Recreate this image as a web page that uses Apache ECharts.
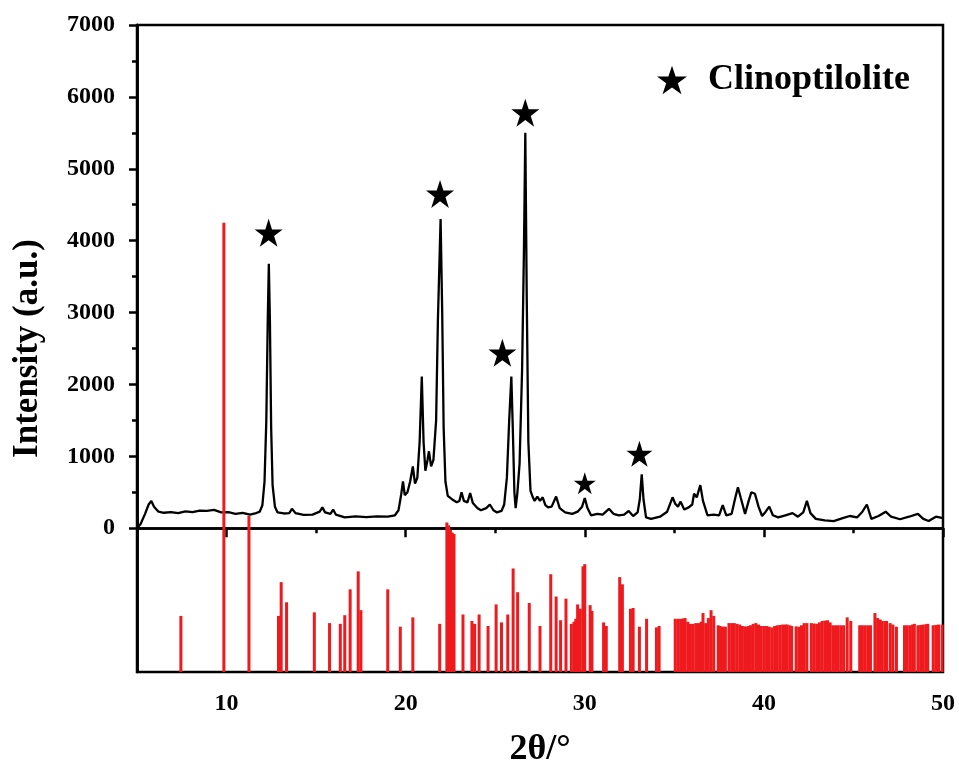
<!DOCTYPE html>
<html>
<head>
<meta charset="utf-8">
<script src="https://cdn.jsdelivr.net/npm/echarts@6/dist/echarts.min.js"></script>
<style>
  html, body { margin: 0; padding: 0; background: #fff; }
  #container { width: 959px; height: 773px; }
</style>
</head>
<body>
<div id="container"></div>
<script>
// measured XRD pattern [2theta, intensity]
const xrdPattern = [
  [5.0, 0], [5.2, 60], [5.45, 200], [5.65, 330], [5.8, 380], [5.95, 300], [6.2, 230], [6.5, 215],
  [6.9, 225], [7.3, 210], [7.7, 235], [8.1, 225], [8.5, 245], [8.9, 240], [9.3, 255], [9.7, 220],
  [10.1, 225], [10.5, 200], [10.9, 215], [11.3, 190], [11.6, 205], [11.85, 230], [12.0, 320],
  [12.12, 650], [12.22, 1500], [12.3, 2900], [12.36, 3680], [12.42, 2900], [12.49, 1400], [12.57, 600],
  [12.7, 300], [12.85, 220], [13.2, 205], [13.5, 210], [13.65, 270], [13.85, 210], [14.3, 185],
  [14.8, 190], [15.2, 230], [15.35, 290], [15.5, 220], [15.8, 200], [15.95, 260], [16.1, 190],
  [16.6, 150], [17.2, 165], [17.8, 155], [18.4, 165], [19.0, 160], [19.4, 180], [19.6, 250],
  [19.75, 470], [19.85, 650], [19.95, 460], [20.1, 500], [20.25, 650], [20.4, 860], [20.52, 620],
  [20.65, 700], [20.78, 1200], [20.9, 2110], [21.0, 1200], [21.1, 800], [21.22, 950], [21.3, 1070],
  [21.42, 860], [21.55, 950], [21.7, 1500], [21.8, 2900], [21.95, 4300], [22.04, 3000], [22.12, 1400],
  [22.22, 650], [22.35, 450], [22.6, 400], [22.85, 360], [23.0, 380], [23.12, 500], [23.25, 380],
  [23.45, 360], [23.6, 490], [23.75, 350], [24.0, 280], [24.2, 250], [24.5, 280], [24.7, 330],
  [24.9, 250], [25.1, 220], [25.35, 240], [25.5, 330], [25.65, 700], [25.78, 1500], [25.9, 2110],
  [25.98, 1400], [26.07, 500], [26.14, 280], [26.24, 500], [26.36, 900], [26.5, 2200], [26.6, 3800],
  [26.68, 5500], [26.76, 3200], [26.85, 1200], [26.97, 520], [27.1, 430], [27.2, 380], [27.35, 440],
  [27.5, 380], [27.65, 430], [27.8, 320], [27.95, 290], [28.15, 300], [28.4, 440], [28.6, 280],
  [28.9, 220], [29.3, 200], [29.6, 230], [29.85, 300], [30.0, 420], [30.15, 280], [30.35, 180],
  [30.7, 200], [31.0, 190], [31.35, 270], [31.6, 200], [31.9, 180], [32.2, 190], [32.45, 240],
  [32.7, 170], [32.95, 220], [33.07, 400], [33.18, 750], [33.28, 400], [33.42, 150], [33.7, 130],
  [34.2, 160], [34.6, 230], [34.9, 430], [35.05, 340], [35.2, 300], [35.35, 370], [35.55, 260],
  [35.8, 290], [36.0, 330], [36.1, 480], [36.25, 430], [36.45, 600], [36.6, 380], [36.85, 180],
  [37.2, 190], [37.5, 180], [37.7, 320], [37.9, 180], [38.2, 200], [38.4, 420], [38.55, 570],
  [38.7, 430], [38.95, 200], [39.15, 380], [39.3, 500], [39.5, 480], [39.7, 300], [39.9, 170],
  [40.1, 230], [40.3, 300], [40.5, 180], [40.8, 150], [41.2, 180], [41.6, 210], [41.9, 160],
  [42.2, 220], [42.4, 380], [42.6, 210], [42.9, 130], [43.4, 110], [43.9, 100], [44.4, 140],
  [44.8, 170], [45.2, 150], [45.5, 230], [45.75, 330], [46.0, 130], [46.4, 170], [46.8, 230],
  [47.1, 160], [47.6, 125], [48.1, 160], [48.6, 200], [48.9, 130], [49.2, 100], [49.6, 160], [50.0, 140]
];

// reference card sticks [2theta, top]
const refSticks = [
  [7.45, -1220], [9.85, 4250], [11.25, 170], [12.9, -1220], [13.05, -750], [13.35, -1030],
  [14.9, -1170], [15.75, -1320], [16.35, -1330], [16.6, -1210], [16.9, -850], [17.35, -600],
  [17.5, -1140], [19.0, -850], [19.7, -1370], [20.4, -1240], [21.9, -1330], [22.3, 80], [22.4, 40],
  [22.5, -20], [22.6, -60], [22.7, -80], [23.2, -1200], [23.7, -1290], [23.85, -1330], [24.1, -1200],
  [24.6, -1360], [25.05, -1060], [25.35, -1310], [25.7, -1200], [26.0, -560], [26.25, -890],
  [26.9, -1040], [27.5, -1360], [28.1, -640], [28.4, -950], [28.65, -1280], [28.95, -980],
  [29.25, -1330], [29.4, -1300], [29.5, -1260], [29.6, -1060], [29.75, -1120], [29.9, -530],
  [30.0, -500], [30.3, -1070], [30.4, -1150], [31.05, -1310], [31.2, -1360], [31.95, -680],
  [32.1, -780], [32.55, -1120], [32.7, -1110], [33.05, -1370], [33.45, -1260], [34.0, -1380],
  [34.15, -1360], [35.05, -1260], [35.2, -1260], [35.35, -1260], [35.5, -1255], [35.6, -1250],
  [35.75, -1300], [35.9, -1330], [36.05, -1330], [36.2, -1320], [36.35, -1320], [36.5, -1300],
  [36.6, -1180], [36.75, -1320], [36.9, -1250], [37.05, -1140], [37.2, -1220], [37.45, -1350],
  [37.55, -1360], [37.65, -1370], [37.75, -1370], [37.85, -1370], [38.05, -1320], [38.2, -1320],
  [38.35, -1320], [38.5, -1330], [38.65, -1340], [38.8, -1360], [38.95, -1365], [39.05, -1370],
  [39.15, -1360], [39.25, -1350], [39.4, -1330], [39.55, -1320], [39.7, -1340], [39.85, -1360],
  [40.0, -1360], [40.15, -1360], [40.3, -1370], [40.45, -1380], [40.6, -1360], [40.75, -1350],
  [40.9, -1345], [41.05, -1340], [41.2, -1340], [41.3, -1340], [41.45, -1350], [41.55, -1360],
  [41.8, -1365], [41.95, -1370], [42.1, -1350], [42.25, -1320], [42.4, -1320], [42.65, -1320],
  [42.8, -1325], [42.95, -1330], [43.1, -1310], [43.25, -1290], [43.4, -1285], [43.55, -1280],
  [43.7, -1310], [43.85, -1350], [44.0, -1350], [44.15, -1350], [44.3, -1350], [44.45, -1350],
  [44.65, -1240], [44.85, -1290], [45.35, -1350], [45.5, -1350], [45.65, -1350], [45.8, -1350],
  [45.95, -1350], [46.2, -1180], [46.35, -1250], [46.5, -1270], [46.6, -1290], [46.75, -1290],
  [46.85, -1290], [47.05, -1320], [47.2, -1340], [47.4, -1370], [47.85, -1350], [48.0, -1350],
  [48.15, -1350], [48.3, -1340], [48.4, -1330], [48.6, -1350], [48.75, -1345], [48.9, -1340],
  [49.05, -1335], [49.15, -1330], [49.45, -1350], [49.6, -1345], [49.75, -1340], [49.95, -1340]
];

// star markers for clinoptilolite peaks [2theta, intensity, size]
const starMarks = [
  [12.35, 4110, 28], [21.92, 4650, 28], [25.4, 2440, 28], [26.68, 5780, 28], [30.0, 625, 22], [33.05, 1035, 26]
];

const yTickValues = [0, 1000, 2000, 3000, 4000, 5000, 6000, 7000];
const yMinorValues = [500, 1500, 2500, 3500, 4500, 5500, 6500];
const xTickValues = [10, 20, 30, 40, 50];
const xMinorValues = [5, 15, 25, 35, 45];

const yBottom = -2000;
const starPath = 'path://M50,0 L61.8,35.3 L99,35.3 L69,57.1 L80.9,92.7 L50,70.8 L19.1,92.7 L31,57.1 L1,35.3 L38.2,35.3 Z';
const fontFam = 'Liberation Serif';

let chart = echarts.init(document.getElementById('container'));

const axisCommon = {
    axisLine: { lineStyle: { color: '#000', width: 2.5 } },
    splitLine: { show: false },
};

chart.setOption({
    animation: false,
    backgroundColor: '#fff',
    grid: {
        left: 137, right: 16, top: 25, bottom: 101,
        show: true, borderColor: '#000', borderWidth: 2.5, backgroundColor: 'transparent'
    },
    legend: {
        left: 652, top: 57,
        itemWidth: 30, itemHeight: 30,
        data: [{ name: 'Clinoptilolite', icon: starPath, itemStyle: { color: '#000', opacity: 1 } }],
        textStyle: { fontFamily: fontFam, fontWeight: 'bold', fontSize: 36, color: '#000', padding: [0, 0, 0, 16] }
    },
    xAxis: [{
        ...axisCommon,
        type: 'value', min: 5, max: 50,
        name: '2θ/°', nameLocation: 'middle', nameGap: 60,
        nameTextStyle: { fontFamily: fontFam, fontWeight: 'bold', fontSize: 36, color: '#000' },
        axisTick: { customValues: xTickValues, length: 9, lineStyle: { color: '#000', width: 2.5 } },
        axisLabel: { customValues: xTickValues, margin: 20, fontFamily: fontFam, fontWeight: 'bold', fontSize: 24, color: '#000' }
    }, {
        ...axisCommon,
        type: 'value', min: 5, max: 50, position: 'bottom',
        axisTick: { customValues: xMinorValues, length: 5, lineStyle: { color: '#000', width: 2.5 } },
        axisLabel: { show: false }
    }],
    yAxis: [{
        ...axisCommon,
        type: 'value', min: yBottom, max: 7000,
        name: 'Intensity (a.u.)', nameLocation: 'middle', nameGap: 92,
        nameTextStyle: { fontFamily: fontFam, fontWeight: 'bold', fontSize: 35, color: '#000' },
        axisTick: { customValues: yTickValues, length: 8, lineStyle: { color: '#000', width: 2.5 } },
        axisLabel: {
            customValues: yTickValues, margin: 22,
            formatter: function (v) { return String(v); },
            fontFamily: fontFam, fontWeight: 'bold', fontSize: 24, color: '#000'
        }
    }, {
        ...axisCommon,
        type: 'value', min: yBottom, max: 7000, position: 'left', offset: 0,
        axisTick: { customValues: yMinorValues, length: 5, lineStyle: { color: '#000', width: 2.5 } },
        axisLabel: { show: false }
    }],
    series: [{
        name: 'pattern',
        type: 'line',
        data: xrdPattern,
        showSymbol: false,
        lineStyle: { color: '#000', width: 2.3 },
        z: 2
    }, {
        name: 'reference',
        type: 'custom',
        data: refSticks,
        renderItem: function (params, api) {
            let p0 = api.coord([api.value(0), yBottom]);
            let p1 = api.coord([api.value(0), api.value(1)]);
            return {
                type: 'line',
                shape: { x1: p0[0], y1: p0[1], x2: p1[0], y2: p1[1] },
                style: { stroke: '#ee1a1e', lineWidth: 3 }
            };
        },
        z: 3
    }, {
        name: 'Clinoptilolite',
        type: 'scatter',
        symbol: starPath,
        symbolSize: function (val) { return val[2]; },
        itemStyle: { color: '#000', opacity: 1 },
        data: starMarks,
        z: 4
    }]
});
</script>
</body>
</html>
